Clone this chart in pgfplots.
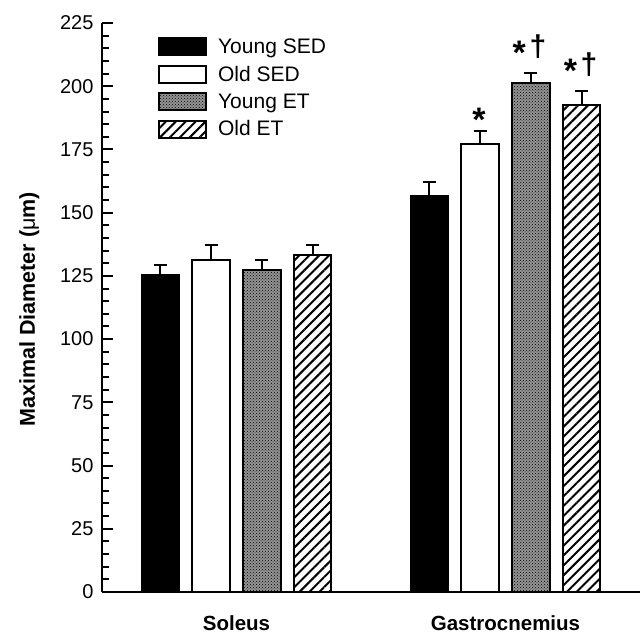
\documentclass[border=0pt]{standalone}
\usepackage{pgfplots}
\pgfplotsset{compat=1.18}
\usetikzlibrary{patterns,patterns.meta}
\usepackage{fontspec}
\setmainfont{Liberation Sans}
\begin{document}
\begin{tikzpicture}
\begin{axis}[
  scale only axis, width=538pt, height=569pt,
  xmin=0.5, xmax=2.5, ymin=0, ymax=225,
  clip=false,
  axis x line=bottom, axis y line=left,
  axis line style={-, line width=2pt},
  ytick={0,25,...,225}, minor y tick num=4,
  xtick={1,2}, xticklabels={\textbf{Soleus},\textbf{Gastrocnemius}},
  x tick style={draw=none},
  y tick style={line width=2pt, black},
  major tick length=11pt, minor tick length=7pt,
  tick align=inside,
  /pgf/number format/assume math mode=true,
  tick label style={font=\fontsize{20}{24}\selectfont},
  yticklabel style={xshift=-5pt},
  xticklabel style={anchor=base, yshift=-27.5pt, font=\fontsize{20.5}{24}\selectfont},
  ylabel={\textbf{Maximal Diameter (}\textmd{μ}\textbf{m)}},
  ylabel style={font=\fontsize{21.5}{24}\selectfont, anchor=base, at={(rel axis cs:0,0.497)}, yshift=67pt},
  ybar, bar shift=0pt, bar width=0.14,
  error bars/y dir=plus, error bars/y explicit,
  error bars/error bar style={line width=2pt, black},
  error bars/error mark options={rotate=90, line width=2pt, black, mark size=6.5pt},
  legend image code/.code={\draw[#1, line width=2pt] (0pt,-8.5pt) rectangle (47pt,8.5pt);},
  legend cell align=left,
  legend style={at={(rel axis cs:0.104,0.976)}, anchor=north west, draw=none, fill=none,
    font=\fontsize{21}{24}\selectfont, row sep=7pt, inner sep=0pt,
    nodes={inner sep=2pt},
    /tikz/every odd column/.append style={column sep=9pt}},
]
\coordinate (O) at (rel axis cs:0,0);
% Young SED
\addplot[fill=black, draw=black, line width=2pt] coordinates {
  (0.717,125.5) +- (0,3.7)
  (1.717,156.5) +- (0,5.8)
};
% Old SED
\addplot[fill=white, draw=black, line width=2pt] coordinates {
  (0.906,131.2) +- (0,6.0)
  (1.906,177.2) +- (0,5.2)
};
% Young ET
\addplot[fill=black!42, draw=black, line width=2pt, postaction={pattern=crosshatch dots, pattern color=black}] coordinates {
  (1.094,127.5) +- (0,3.7)
  (2.094,201.3) +- (0,4.0)
};
% Old ET
\addplot[fill=white, draw=black, line width=2pt, postaction={pattern={Lines[angle=45,distance=7pt,line width=2pt]}, pattern color=black}] coordinates {
  (1.283,133.3) +- (0,3.9)
  (2.283,192.4) +- (0,5.8)
};
\legend{Young SED, Old SED, Young ET, Old ET}
\node[anchor=north, inner sep=0pt, font=\bfseries\fontsize{34}{36}\selectfont] at (axis cs:1.901,191.3) {*};
\node[anchor=north, inner sep=0pt, font=\bfseries\fontsize{34}{36}\selectfont] at (axis cs:2.051,218.0) {*};
\node[anchor=north, inner sep=0pt, font=\bfseries\fontsize{30}{32}\selectfont] at (axis cs:2.121,220.6) {†};
\node[anchor=north, inner sep=0pt, font=\bfseries\fontsize{34}{36}\selectfont] at (axis cs:2.242,210.6) {*};
\node[anchor=north, inner sep=0pt, font=\bfseries\fontsize{30}{32}\selectfont] at (axis cs:2.310,213.2) {†};
\end{axis}
\pgfresetboundingbox
\path[use as bounding box] ([shift={(-102pt,-42pt)}]O) rectangle ([shift={(539pt,592pt)}]O);
\end{tikzpicture}
\end{document}
